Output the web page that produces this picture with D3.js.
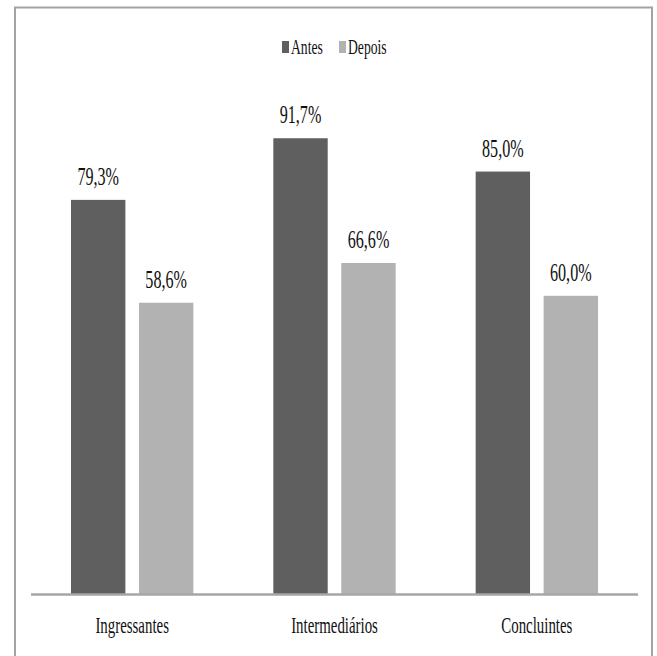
<!DOCTYPE html>
<html><head><meta charset="utf-8">
<script src="https://cdn.jsdelivr.net/npm/d3@7"></script>
<style>body{margin:0;background:#fff}svg{display:block}</style>
</head><body>
<script>
const categories = ["Ingressantes", "Intermediários", "Concluintes"];
const series = ["Antes", "Depois"];
const antes = [79.3, 91.7, 85.0];
const depois = [58.6, 66.6, 60.0];
const valueLabels = [["79,3%", "91,7%", "85,0%"], ["58,6%", "66,6%", "60,0%"]];
const colors = ["#5f5f5f", "#b2b2b2"];

const W = 657, H = 656, SX = 0.62;
const FONT = "'Liberation Serif', 'Times New Roman', 'DejaVu Serif', serif";
const svg = d3.select("body").append("svg").attr("width", W).attr("height", H);

svg.append("rect").attr("x", 15).attr("y", 7.5).attr("width", 637).attr("height", 670)
  .attr("fill", "none").attr("stroke", "#a3a3a3").attr("stroke-width", 2);

const x0 = d3.scaleBand().domain(categories).range([31, 638]);
const x1 = d3.scaleBand().domain(series).range([40, x0.bandwidth() - 40]).paddingInner(0.2);
const y = d3.scaleLinear().domain([0, 100]).range([594, 97]);

const vals = [antes, depois];
const data = [];
series.forEach((s, si) => categories.forEach((c, ci) => data.push({s, si, c, v: vals[si][ci], lab: valueLabels[si][ci]})));

svg.selectAll("rect.bar").data(data).join("rect").attr("class", "bar")
  .attr("x", d => x0(d.c) + x1(d.s)).attr("width", x1.bandwidth())
  .attr("y", d => y(d.v)).attr("height", d => y(0) - y(d.v))
  .attr("fill", d => colors[d.si]);

function sText(g, tx, ty, str, size, anchor) {
  return g.append("text").attr("transform", `translate(${tx},${ty}) scale(${SX},1)`)
    .attr("text-anchor", anchor || "middle").attr("font-size", size)
    .attr("font-family", FONT).attr("fill", "#111").text(str);
}

data.forEach(d => sText(svg, x0(d.c) + x1(d.s) + x1.bandwidth() / 2, y(d.v) - 15, d.lab, 26));

// axis
const axis = svg.append("g").attr("transform", `translate(0,${y(0)})`)
  .call(d3.axisBottom(x0).tickSize(0).tickPadding(0));
axis.select(".domain").attr("d", `M${x0.range()[0]},0.5H${x0.range()[1]}`).attr("stroke", "#a6a6a6").attr("stroke-width", 2.5);
axis.selectAll(".tick text").remove();
axis.selectAll(".tick").each(function(c) {
  sText(d3.select(this), 0, 39, c, 24);
});

// legend
const lg = svg.append("g");
const legendX = [282, 339];
series.forEach((s, i) => {
  lg.append("rect").attr("x", legendX[i]).attr("y", 41).attr("width", 7).attr("height", 12).attr("fill", colors[i]);
  sText(lg, legendX[i] + 9, 54, s, 22, "start");
});
</script>
</body></html>
